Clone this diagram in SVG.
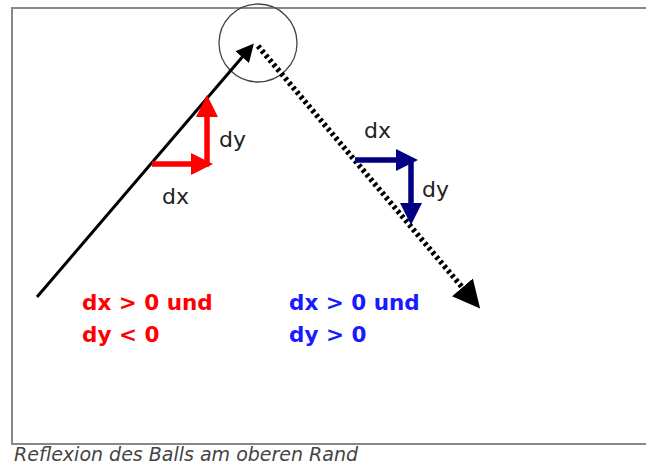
<svg xmlns="http://www.w3.org/2000/svg" width="646" height="466" viewBox="0 0 646 466">
<style>
.lbl{font-family:"DejaVu Sans",Verdana,sans-serif;font-size:22px;fill:#222}
.cond{font-family:"DejaVu Sans",Verdana,sans-serif;font-size:21.5px;font-weight:bold}
.cap{font-family:"DejaVu Sans",Verdana,sans-serif;font-size:19px;font-style:italic;fill:#444}
</style>
<defs>
<marker id="ahB" markerWidth="6" markerHeight="6" refX="4" refY="3" orient="auto" markerUnits="strokeWidth"><path d="M0,0 L6,3 L0,6 Z" fill="#000"/></marker>
<marker id="ahK" markerWidth="5" markerHeight="5" refX="3" refY="2.5" orient="auto" markerUnits="strokeWidth"><path d="M0,0 L5,2.5 L0,5 Z" fill="#000"/></marker>
<marker id="ahR" markerWidth="4" markerHeight="4" refX="2" refY="2" orient="auto" markerUnits="strokeWidth"><path d="M0,0 L4,2 L0,4 Z" fill="#ff0000"/></marker>
<marker id="ahN" markerWidth="4" markerHeight="4" refX="2" refY="2" orient="auto" markerUnits="strokeWidth"><path d="M0,0 L4,2 L0,4 Z" fill="#000080"/></marker>
</defs>
<rect x="12" y="8" width="640" height="436" fill="#fff" stroke="#888" stroke-width="2"/>
<g id="circle"><circle cx="258" cy="43" r="39" fill="none" stroke="#444" stroke-width="1.3"/></g>
<g id="connectors">
<line x1="37" y1="297" x2="250" y2="48" stroke="#000" stroke-width="3" marker-end="url(#ahB)"/>
<line x1="258" y1="46" x2="473" y2="300" stroke="#000" stroke-width="5.5" stroke-dasharray="3,3" marker-end="url(#ahK)"/>
<polyline points="152,164 202,164" fill="none" stroke="#ff0000" stroke-width="5.5" marker-end="url(#ahR)"/>
<polyline points="207,166 207,106" fill="none" stroke="#ff0000" stroke-width="5.5" marker-end="url(#ahR)"/>
<line x1="209" y1="164" x2="202" y2="164" stroke="#ff0000" stroke-width="5.5"/>
<polyline points="355,160 407,160" fill="none" stroke="#000080" stroke-width="5.5" marker-end="url(#ahN)"/>
<polyline points="411,158 411,214" fill="none" stroke="#000080" stroke-width="5.5" marker-end="url(#ahN)"/>
</g>
<g id="red-labels">
<text class="lbl" x="219" y="147">dy</text>
<text class="lbl" x="162" y="204">dx</text>
</g>
<g id="blue-labels">
<text class="lbl" x="364" y="138">dx</text>
<text class="lbl" x="422" y="197">dy</text>
</g>
<g id="cond-red">
<text class="cond" x="82" y="310" fill="#ff0000">dx &gt; 0 und</text>
<text class="cond" x="82" y="342" fill="#ff0000">dy &lt; 0</text>
</g>
<g id="cond-blue">
<text class="cond" x="289" y="310" fill="#1a1aff">dx &gt; 0 und</text>
<text class="cond" x="289" y="342" fill="#1a1aff">dy &gt; 0</text>
</g>
<g id="caption"><text class="cap" x="14" y="461">Reflexion des Balls am oberen Rand</text></g>
</svg>
